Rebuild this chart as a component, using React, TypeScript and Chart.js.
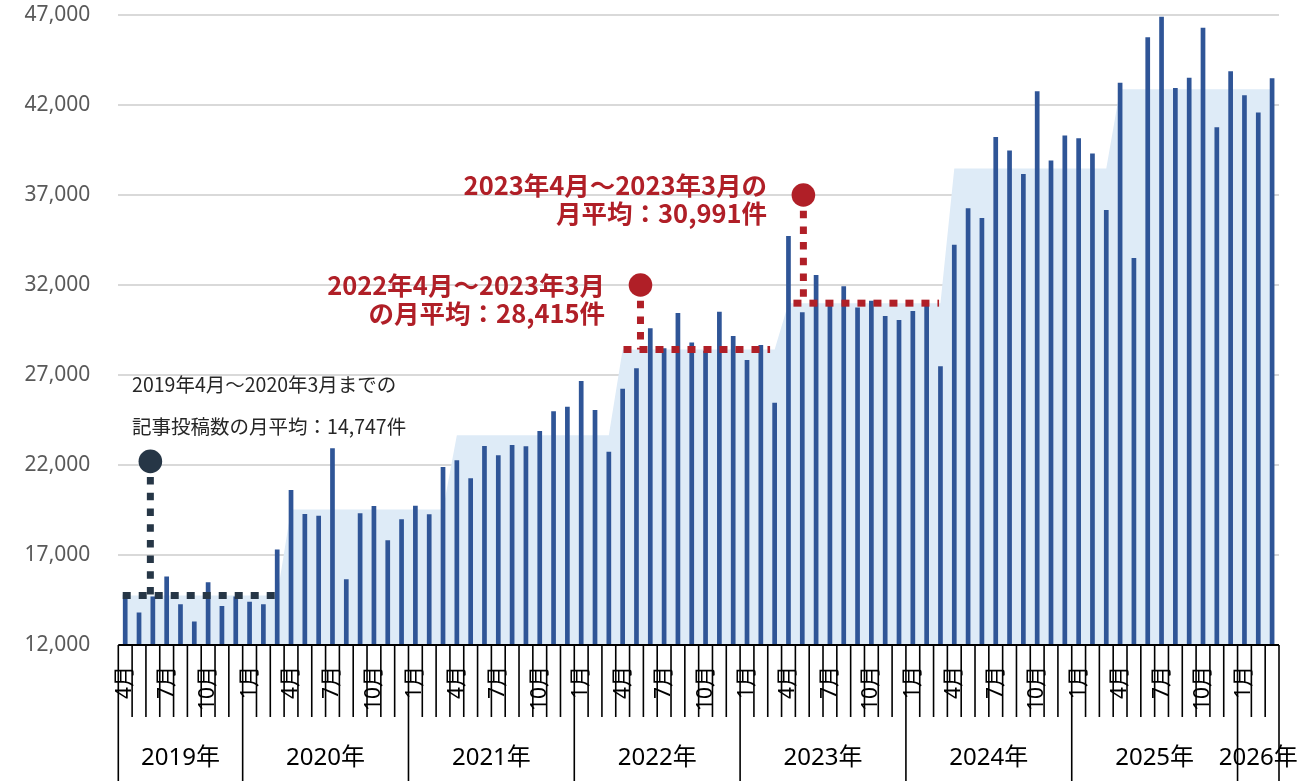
import React, { useEffect, useRef } from "react";
import { Chart, registerables } from "chart.js";

Chart.register(...registerables);

// ---- Data ----
const yearLabels = ["2019年", "2020年", "2021年", "2022年", "2023年", "2024年", "2025年", "2026年"];
const firstMonthOfYear = [4, 1, 1, 1, 1, 1, 1, 1];
const monthsShownPerYear = [9, 12, 12, 12, 12, 12, 12, 3];
const labelledMonths = [1, 4, 7, 10];

// monthly article post counts, Apr 2019 .. Mar 2026
const postCounts = [
  14800, 13800, 14700, 15800, 14260, 13300, 15480, 14170, 14700, 14400, 14260, 17310,
  20610, 19280, 19180, 22930, 15650, 19320, 19720, 17820, 18980, 19740, 19260, 21890,
  22260, 21260, 23060, 22540, 23110, 23040, 23890, 24980, 25240, 26670, 25060, 22740,
  26240, 27370, 29600, 28480, 30440, 28800, 28350, 30520, 29170, 27830, 28670, 25460,
  34720, 30480, 32560, 30900, 31930, 30750, 31130, 30280, 30050, 30560, 31040, 27480,
  34230, 36260, 35720, 40220, 39470, 38160, 42770, 38910, 40310, 40150, 39310, 36170,
  43240, 33500, 45770, 46900, 42940, 43520, 46290, 40760, 43870, 42540, 41580, 43480,
];

// fiscal-year (Apr-Mar) monthly averages, FY2019 .. FY2025
const fiscalYearAverages = [14747, 19530, 23650, 28415, 30991, 38470, 42870];

const yMin = 12000;
const yMax = 47000;
const yStep = 5000;

// callouts (positions in month-index / value units)
const calloutLineValue = [14747, 28415, 30991];
const calloutLineFrom = [-0.18, 36.06, 48.36];
const calloutLineTo = [11, 46.67, 58.9];
const calloutMarkerIndex = [1.82, 37.29, 49.08];
const calloutMarkerValue = [22200, 32000, 37000];
const calloutColors = ["#263646", "#B01F27", "#B01F27"];

const noteTexts = [
  ["2019年4月～2020年3月までの", "記事投稿数の月平均：14,747件"],
  ["2022年4月～2023年3月", "の月平均：28,415件"],
  ["2023年4月～2023年3月の", "月平均：30,991件"],
];
const noteAnchorIndex = [0.5, 34.73, 46.45];
const noteAlign = ["left", "right", "right"];
const noteLineValues = [
  [26444, 24111],
  [32000, 30444],
  [37556, 36000],
];
const noteFonts = [
  "19.5px 'Noto Sans CJK JP'",
  "bold 25.5px 'Noto Sans CJK JP'",
  "bold 25.5px 'Noto Sans CJK JP'",
];
const noteColors = ["#262626", "#B01F27", "#B01F27"];

// derived category list
const categories: string[] = [];
const categoryMonth: number[] = [];
yearLabels.forEach((y, yi) => {
  for (let k = 0; k < monthsShownPerYear[yi]; k++) {
    const m = firstMonthOfYear[yi] + k;
    categories.push(`${y}${m}月`);
    categoryMonth.push(m);
  }
});
const fiscalAverageSeries = postCounts.map((_, i) => fiscalYearAverages[Math.floor(i / 12)]);

const overlayPlugin = {
  id: "overlay",
  afterDatasetsDraw(chart: any) {
    const ctx = chart.ctx;
    const xs = chart.scales.x;
    const ys = chart.scales.y;
    const x0 = xs.getPixelForValue(0);
    const step = xs.getPixelForValue(1) - x0;
    const px = (i: number) => x0 + i * step;

    for (let k = 0; k < calloutLineValue.length; k++) {
      const yl = ys.getPixelForValue(calloutLineValue[k]);
      const mx = px(calloutMarkerIndex[k]);
      const my = ys.getPixelForValue(calloutMarkerValue[k]);
      ctx.save();
      ctx.strokeStyle = calloutColors[k];
      ctx.fillStyle = calloutColors[k];
      ctx.lineWidth = 7;
      ctx.lineCap = "butt";
      ctx.setLineDash([8, 8]);
      ctx.beginPath();
      ctx.moveTo(px(calloutLineFrom[k]), yl);
      ctx.lineTo(px(calloutLineTo[k]), yl);
      ctx.stroke();
      ctx.setLineDash([7.5, 8.2]);
      ctx.beginPath();
      ctx.moveTo(mx, my);
      ctx.lineTo(mx, yl);
      ctx.stroke();
      ctx.setLineDash([]);
      ctx.beginPath();
      ctx.arc(mx, my, 11.8, 0, Math.PI * 2);
      ctx.fill();
      ctx.restore();
    }

    for (let k = 0; k < noteTexts.length; k++) {
      ctx.save();
      ctx.font = noteFonts[k];
      ctx.fillStyle = noteColors[k];
      ctx.textAlign = noteAlign[k];
      ctx.textBaseline = "middle";
      const x = px(noteAnchorIndex[k]);
      noteTexts[k].forEach((t, li) => {
        ctx.fillText(t, x, ys.getPixelForValue(noteLineValues[k][li]));
      });
      ctx.restore();
    }
  },
  afterDraw(chart: any) {
    const ctx = chart.ctx;
    const xs = chart.scales.x;
    const area = chart.chartArea;
    const x0 = xs.getPixelForValue(0);
    const step = xs.getPixelForValue(1) - x0;
    const px = (i: number) => x0 + i * step;
    const top = area.bottom;
    const bottom = chart.height;
    const monthTickBottom = top + 72;

    ctx.save();
    ctx.strokeStyle = "#000000";
    ctx.lineWidth = 1.6;
    // year boundaries
    const boundaries: number[] = [0];
    monthsShownPerYear.forEach((n) => boundaries.push(boundaries[boundaries.length - 1] + n));
    for (let i = 0; i <= categories.length; i++) {
      const x = px(i - 0.5);
      const isYear = boundaries.includes(i);
      ctx.beginPath();
      ctx.moveTo(x, top);
      ctx.lineTo(x, isYear ? bottom : monthTickBottom);
      ctx.stroke();
    }
    ctx.lineWidth = 2.2;
    ctx.beginPath();
    ctx.moveTo(px(-0.5), top);
    ctx.lineTo(px(categories.length - 0.5), top);
    ctx.stroke();

    // month labels
    ctx.fillStyle = "#000000";
    ctx.font = "21px 'Noto Sans', 'Noto Sans CJK JP'";
    ctx.textAlign = "right";
    ctx.textBaseline = "middle";
    categoryMonth.forEach((m, i) => {
      if (!labelledMonths.includes(m)) return;
      ctx.save();
      ctx.translate(px(i), top + 21);
      ctx.rotate(-Math.PI / 2);
      ctx.fillText(`${m}月`, 0, 0);
      ctx.restore();
    });

    // year labels
    ctx.font = "24px 'Noto Sans', 'Noto Sans CJK JP'";
    ctx.textAlign = "center";
    yearLabels.forEach((y, yi) => {
      const cx = (px(boundaries[yi] - 0.5) + px(boundaries[yi + 1] - 0.5)) / 2;
      ctx.fillText(y, cx, top + 113);
    });
    ctx.restore();
  },
};

export default function App() {
  const ref = useRef<HTMLCanvasElement | null>(null);
  useEffect(() => {
    if (!ref.current) return;
    Chart.defaults.font.family = "'Noto Sans', 'Noto Sans CJK JP', sans-serif";
    const chart = new Chart(ref.current, {
      type: "bar",
      data: {
        labels: categories,
        datasets: [
          {
            type: "bar",
            label: "記事投稿数",
            data: postCounts,
            backgroundColor: "#2F5597",
            barPercentage: 0.34,
            categoryPercentage: 1,
            order: 1,
          },
          {
            type: "line",
            label: "年度月平均",
            data: fiscalAverageSeries,
            backgroundColor: "#DEEBF7",
            borderWidth: 0,
            pointRadius: 0,
            fill: "start",
            tension: 0,
            order: 2,
          } as any,
        ],
      },
      options: {
        responsive: false,
        animation: false,
        layout: { padding: { top: 15, right: 30, left: 0, bottom: 0 } },
        plugins: { legend: { display: false }, tooltip: { enabled: false } },
        scales: {
          x: {
            type: "category",
            offset: true,
            grid: { display: false },
            border: { display: false },
            ticks: { display: false },
            afterFit: (s: any) => {
              s.height = 136;
              s.paddingLeft = 0;
              s.paddingRight = 0;
            },
          },
          y: {
            min: yMin,
            max: yMax,
            grid: { color: "#D9D9D9", lineWidth: 2, drawTicks: false },
            border: { display: false },
            ticks: {
              stepSize: yStep,
              padding: 28,
              color: "#595959",
              font: { size: 21, family: "'Noto Sans'" },
              callback: (v: any) => Number(v).toLocaleString("en-US"),
            },
            afterFit: (s: any) => {
              s.width = 118.3;
              s.paddingTop = 0;
              s.paddingBottom = 0;
            },
          },
        },
      },
      plugins: [overlayPlugin],
    });
    return () => chart.destroy();
  }, []);
  return (
    <div style={{ position: "fixed", left: 0, top: 0, width: 1309, height: 781 }}>
      <canvas ref={ref} width={1309} height={781} style={{ display: "block" }} />
    </div>
  );
}
